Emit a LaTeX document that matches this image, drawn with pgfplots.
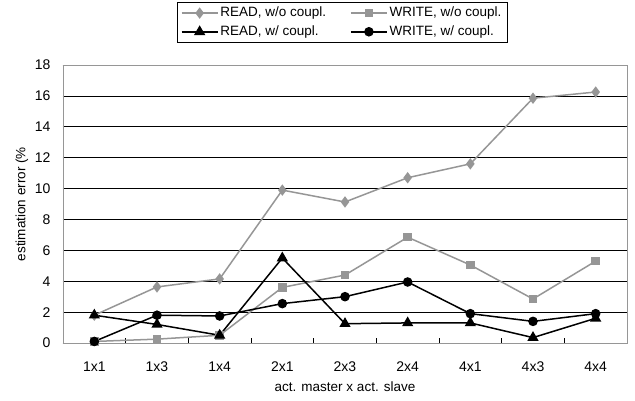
\documentclass[border=0pt]{standalone}
\usepackage{pgfplots}
\pgfplotsset{compat=1.18}
\usepackage{fontspec}
\setmainfont{Liberation Sans}
\definecolor{lg}{RGB}{150,150,150}
\begin{document}
\fontsize{13bp}{15bp}\selectfont
\begin{tikzpicture}
\useasboundingbox (-63bp,-58bp) rectangle (572bp,343bp);
\begin{axis}[
  at={(0,0)}, anchor=south west,
  scale only axis, width=564bp, height=278bp,
  xmin=-0.5, xmax=8.5, ymin=0, ymax=18,
  ytick={0,2,...,18},
  xtick={0,...,8},
  xticklabels={1x1,1x3,1x4,2x1,2x3,2x4,4x1,4x3,4x4},
  major x tick style={draw=none},
  minor xtick={-0.5,0.5,...,8.5},
  minor tick length=5bp,
  major tick length=4bp,
  tick align=inside,
  xtick pos=bottom, ytick pos=left,
  ymajorgrids, grid style={black, line width=0.6bp},
  axis line style={lg, line width=0.8bp},
  tick style={black, line width=0.6bp},
  /pgf/number format/assume math mode=true,
  ticklabel style={font=\fontsize{14bp}{16bp}\selectfont},
  xticklabel style={yshift=-14bp},
  yticklabel style={xshift=-8bp},
  xlabel={act. master x act. slave},
  ylabel={estimation error (\%},
  xlabel style={yshift=-1bp},
  ylabel style={at={(axis description cs:-0.0727,0.5)}, anchor=center},
  label style={font=\fontsize{13.5bp}{15bp}\selectfont},
  legend columns=2,
  legend style={at={(0.495,1.227)}, anchor=north, draw=black, line width=0.6bp,
    font=\fontsize{13.5bp}{15bp}\selectfont, inner xsep=4bp, inner ysep=3bp,
    row sep=3bp,
    /tikz/every even column/.append style={column sep=22bp}},
  legend cell align=left,
  legend image code/.code={\draw[mark repeat=2,mark phase=2] plot coordinates {(0bp,0bp) (18bp,0bp) (36bp,0bp)};},
]
\addplot[lg, line width=1.5bp, mark=diamond*, mark size=4.5bp, mark options={fill=lg, draw=lg}]
  coordinates {(0,1.8) (1,3.63) (2,4.15) (3,9.9) (4,9.13) (5,10.7) (6,11.6) (7,15.85) (8,16.25)};
\addlegendentry{READ, w/o coupl.}
\addplot[lg, line width=1.5bp, mark=square*, mark size=3.5bp, mark options={fill=lg, draw=lg}]
  coordinates {(0,0.1) (1,0.25) (2,0.5) (3,3.6) (4,4.4) (5,6.85) (6,5.05) (7,2.85) (8,5.3)};
\addlegendentry{WRITE, w/o coupl.}
\addplot[black, line width=1.5bp, mark=triangle*, mark size=5bp, mark options={fill=black}]
  coordinates {(0,1.8) (1,1.2) (2,0.5) (3,5.5) (4,1.25) (5,1.3) (6,1.3) (7,0.35) (8,1.6)};
\addlegendentry{READ, w/ coupl.}
\addplot[black, line width=1.5bp, mark=*, mark size=4bp, mark options={fill=black}]
  coordinates {(0,0.1) (1,1.8) (2,1.75) (3,2.55) (4,3.0) (5,3.95) (6,1.9) (7,1.4) (8,1.9)};
\addlegendentry{WRITE, w/ coupl.}
\end{axis}
\end{tikzpicture}
\end{document}
